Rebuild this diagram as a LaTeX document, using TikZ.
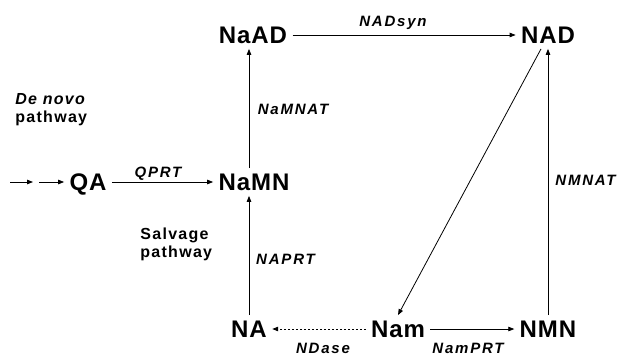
\documentclass[tikz,border=0pt]{standalone}
\usepackage{fontspec}
\setmainfont{Liberation Sans}
\usetikzlibrary{arrows.meta}
\tikzset{>/.tip={Triangle[length=6pt,width=4.5pt]},
  met/.style={font=\fontsize{24}{28}\selectfont\bfseries\addfontfeature{LetterSpace=4},
    text height=17pt, text depth=0pt, inner sep=5pt},
  enz/.style={font=\fontsize{15}{18}\selectfont\bfseries\itshape\addfontfeature{LetterSpace=12},
    text height=11pt, text depth=0pt, inner sep=0pt},
  note/.style={font=\fontsize{16}{18}\selectfont\bfseries\addfontfeature{LetterSpace=8},
    align=left, anchor=base west, inner sep=0pt}}

\begin{document}
\begin{tikzpicture}[x=10pt,y=-10pt, line width=0.8pt]
\useasboundingbox (0,0) rectangle (61.8,35.6);
\node[met] (QA)   at (8.8,18.2)  {QA};
\node[met] (NaMN) at (25.4,18.2) {NaMN};
\node[met] (NaAD) at (25.3,3.5)  {NaAD};
\node[met] (NAD)  at (54.8,3.5)  {NAD};
\node[met] (NA)   at (24.9,32.9) {NA};
\node[met] (Nam)  at (39.8,32.9) {Nam};
\node[met] (NMN)  at (54.8,32.9) {NMN};
\coordinate (s0) at (1.0,18.2);
\coordinate (s1) at (3.3,18.2);
\coordinate (s2) at (3.9,18.2);
\draw[->] (s0) -- (s1);
\draw[->] (s2) -- (QA);
\draw[->] (QA) -- (NaMN);
\draw[->] (NA) -- (NA |- NaMN.south);
\draw[->] (NaMN.north -| NA) -- (NaAD.south -| NA);
\draw[->] (NaAD) -- (NAD);
\draw[->] ([xshift=-7pt]NAD.south) -- (Nam.north);
\draw[->, dash pattern=on 2pt off 2pt] (Nam) -- (NA);
\draw[->] (Nam) -- (NMN);
\draw[->] (NMN) -- (NAD);
\node[enz] (qprt)   at (15.8,17.15) {QPRT};
\node[enz] (nadsyn) at (39.3,2.05)  {NADsyn};
\node[enz] (namnat) at (29.3,10.85) {NaMNAT};
\node[enz] (naprt)  at (28.55,25.85) {NAPRT};
\node[enz] (nmnat)  at (58.55,18.0) {NMNAT};
\node[enz] (ndase)  at (32.3,34.75) {NDase};
\node[enz] (namprt) at (46.8,34.75) {NamPRT};
\node[note] (denovo)  at (1.5,12.2)  {\textit{De novo}\\pathway};
\node[note] (salvage) at (14.0,25.7) {Salvage\\pathway};
\end{tikzpicture}
\end{document}
